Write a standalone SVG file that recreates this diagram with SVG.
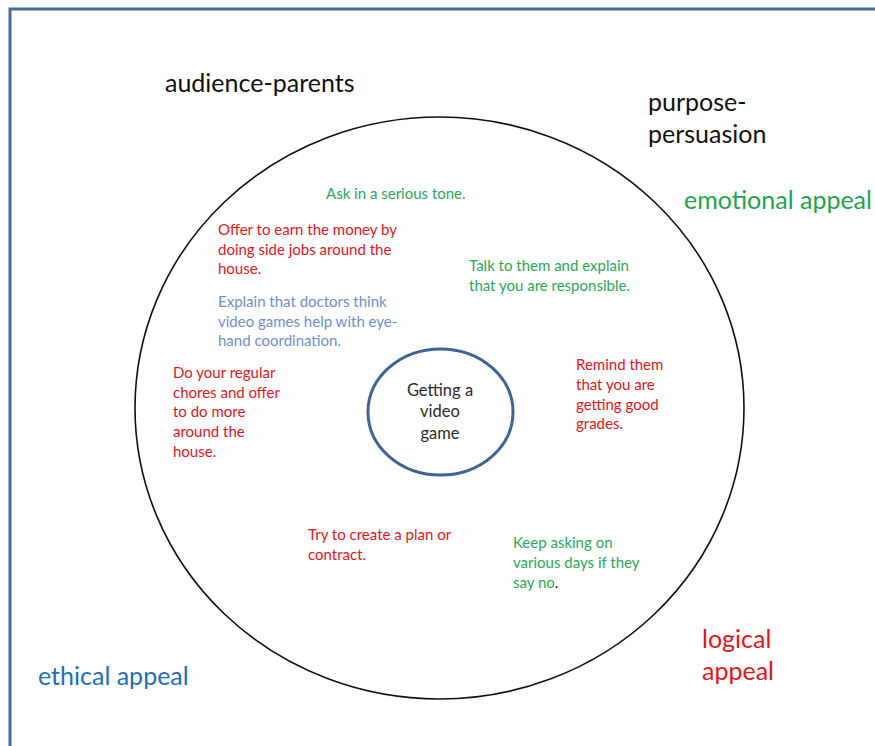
<svg xmlns="http://www.w3.org/2000/svg" width="875" height="746" viewBox="0 0 875 746">
<style>
  text { font-family: Lato, "Open Sans", "Liberation Sans", sans-serif; }
  .big { font-size: 25px; }
  .sm { font-size: 15px; }
  .ctr { font-size: 16.5px; fill: #2b2b2b; text-anchor: middle; }
  .red { fill: #e3151c; }
  .grn { fill: #2aa85a; }
  .lblue { fill: #6f8fc9; }
  .blk { fill: #111111; }
</style>
<rect x="10" y="9" width="880" height="760" fill="#ffffff" stroke="#4a6a9e" stroke-width="3"/>
<g id="outer-circle">
  <ellipse cx="439.5" cy="408" rx="304.5" ry="291" fill="none" stroke="#111111" stroke-width="1.6"/>
</g>
<g id="labels">
  <text class="big blk" x="165" y="92">audience-parents</text>
  <text class="big blk" x="648" y="111">purpose-</text>
  <text class="big blk" x="648" y="143">persuasion</text>
  <text class="big" x="684" y="209" fill="#1fa34e">emotional appeal</text>
  <text class="big" x="38" y="685" fill="#1e6fb4">ethical appeal</text>
  <text class="big red" x="702" y="648">logical</text>
  <text class="big red" x="702" y="680">appeal</text>
</g>
<g id="strategies">
  <text class="sm grn" x="326" y="199">Ask in a serious tone.</text>
  <text class="sm red" x="218" y="235">Offer to earn the money by</text>
  <text class="sm red" x="218" y="255">doing side jobs around the</text>
  <text class="sm red" x="218" y="274">house.</text>
  <text class="sm lblue" x="218" y="307">Explain that doctors think</text>
  <text class="sm lblue" x="218" y="327">video games help with eye-</text>
  <text class="sm lblue" x="218" y="346">hand coordination.</text>
  <text class="sm grn" x="469" y="271">Talk to them and explain</text>
  <text class="sm grn" x="469" y="291">that you are responsible.</text>
  <text class="sm red" x="576" y="370">Remind them</text>
  <text class="sm red" x="576" y="390">that you are</text>
  <text class="sm red" x="576" y="410">getting good</text>
  <text class="sm red" x="576" y="429">grades.</text>
  <text class="sm red" x="173" y="378">Do your regular</text>
  <text class="sm red" x="173" y="398">chores and offer</text>
  <text class="sm red" x="173" y="417">to do more</text>
  <text class="sm red" x="173" y="437">around the</text>
  <text class="sm red" x="173" y="457">house.</text>
  <text class="sm red" x="308" y="540">Try to create a plan or</text>
  <text class="sm red" x="308" y="560">contract.</text>
  <text class="sm grn" x="513" y="548">Keep asking on</text>
  <text class="sm grn" x="513" y="568">various days if they</text>
  <text class="sm grn" x="513" y="588">say no<tspan class="blk">.</tspan></text>
</g>
<g id="center">
  <ellipse cx="440.5" cy="412" rx="72.5" ry="63" fill="#ffffff" stroke="#3f6397" stroke-width="3"/>
  <text class="ctr" x="440" y="396">Getting a</text>
  <text class="ctr" x="440" y="417">video</text>
  <text class="ctr" x="440" y="439">game</text>
</g>
</svg>
